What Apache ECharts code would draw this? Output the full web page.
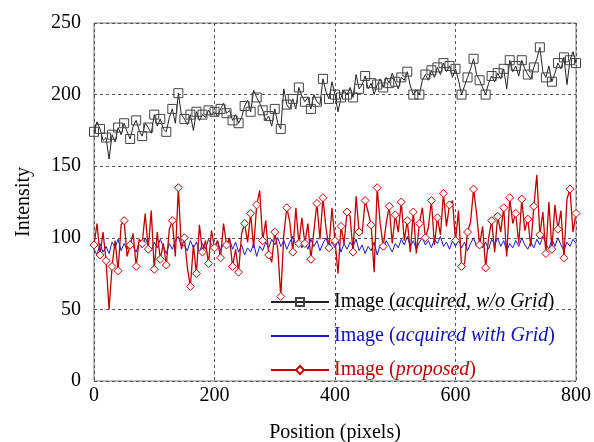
<!DOCTYPE html>
<html>
<head>
<meta charset="utf-8">
<title>Intensity profile</title>
<script src="https://cdn.jsdelivr.net/npm/echarts@6/dist/echarts.min.js"></script>
<style>
  html, body { margin: 0; padding: 0; background: #fff; }
  #main { width: 594px; height: 442px; }
</style>
</head>
<body>
<div id="main"></div>
<script>
// positions along the profile (pixels), one every 5
var positions = [];
for (var p = 0; p <= 800; p += 5) positions.push(p);

// acquired image, no grid (black, squares)
var acquiredNoGrid = [
  174,181,176,168,170,155,172,167,177,172,
  180,174,169,178,182,175,171,180,177,173,
  186,178,183,176,174,184,190,180,201,186,
  183,179,186,175,188,182,186,184,189,186,
  188,185,190,194,187,189,182,186,180,184,
  192,196,188,203,198,194,189,182,185,178,
  190,180,176,204,193,190,197,190,205,199,
  195,198,190,200,195,193,211,202,197,209,
  200,188,198,203,200,205,198,214,204,207,
  213,204,208,200,207,211,205,212,208,215,
  209,204,212,210,216,206,200,203,200,210,
  214,210,217,212,219,214,222,216,220,212,
  218,210,200,206,212,218,225,214,210,205,
  200,208,213,209,215,211,218,204,224,216,
  220,213,224,218,214,211,219,225,233,216,
  212,220,209,215,222,218,226,207,224,230,
  222
];

// acquired image with grid (blue, plain line)
var acquiredWithGrid = [
  92,88,96,90,94,89,97,93,99,91,
  96,92,98,94,90,97,93,100,95,91,
  97,93,99,94,89,96,92,98,101,94,
  95,91,98,93,97,90,96,92,99,95,
  93,98,91,96,94,99,92,97,90,95,
  88,93,90,96,87,94,91,97,93,99,
  95,100,94,98,92,97,101,95,99,93,
  97,92,99,94,98,91,96,100,94,97,
  93,98,90,96,92,97,94,99,91,95,
  89,94,91,97,88,95,92,98,94,90,
  96,93,99,95,101,94,98,92,97,100,
  95,98,93,99,96,101,94,97,92,98,
  94,99,93,97,91,96,100,94,98,93,
  97,92,99,95,100,94,98,91,96,93,
  98,94,100,95,92,97,93,99,95,101,
  96,92,99,94,100,95,91,97,94,99,
  96
];

// proposed method (red, diamonds)
var proposed = [
  95,110,88,104,84,50,80,98,77,109,
  112,87,95,103,80,99,96,117,92,119,
  78,104,85,96,81,106,112,87,135,92,
  100,79,66,95,75,109,90,98,82,105,
  93,98,86,110,95,100,80,92,76,103,
  110,97,117,93,123,133,98,112,88,83,
  104,92,59,102,121,111,90,121,96,114,
  96,110,85,105,124,99,128,107,93,121,
  98,75,108,96,118,115,90,129,104,103,
  126,118,109,76,135,110,94,110,122,96,
  116,104,125,98,112,90,118,89,110,121,
  100,107,126,95,114,102,131,108,123,126,
  98,119,80,82,104,111,134,117,95,108,
  79,100,112,90,115,104,121,87,128,110,
  117,96,127,105,113,94,122,144,102,118,
  89,125,92,123,106,119,86,127,134,104,
  117
];

var xTicks = [0, 200, 400, 600, 800];
var yTicks = [0, 50, 100, 150, 200, 250];

var names = ['Image (acquired, w/o Grid)', 'Image (acquired with Grid)', 'Image (proposed)'];

function pairs(vals) {
  return vals.map(function (v, i) { return [positions[i], v]; });
}
// markers only on every other sample
function markEvery(size) {
  return function (v, params) {
    return params.dataIndex % 2 === 0 ? size : 0;
  };
}

var serif = '"Liberation Serif", "DejaVu Serif", serif';
var chart = echarts.init(document.getElementById('main'));

chart.setOption({
  animation: false,
  grid: {
    left: 94, right: 18, top: 23, bottom: 61,
    outerBoundsMode: 'none',
    show: true, borderColor: '#777', borderWidth: 1
  },
  xAxis: {
    type: 'value',
    min: xTicks[0], max: xTicks[xTicks.length - 1], interval: 200,
    name: 'Position (pixels)',
    nameLocation: 'middle',
    nameGap: 42,
    nameTextStyle: { fontFamily: serif, fontSize: 20, color: '#000' },
    axisLine: { show: false },
    axisTick: { show: false },
    axisLabel: { fontFamily: serif, fontSize: 20, color: '#000', margin: 5 },
    splitLine: { show: true, lineStyle: { color: '#555', type: [3, 3], width: 1 } }
  },
  yAxis: {
    type: 'value',
    min: yTicks[0], max: yTicks[yTicks.length - 1], interval: 50,
    name: 'Intensity',
    nameLocation: 'middle',
    nameGap: 60,
    nameTextStyle: { fontFamily: serif, fontSize: 20, color: '#000' },
    axisLine: { show: false },
    axisTick: { show: false },
    axisLabel: { fontFamily: serif, fontSize: 20, color: '#000', margin: 13 },
    splitLine: { show: true, lineStyle: { color: '#555', type: [3, 3], width: 1 } }
  },
  legend: {
    orient: 'vertical',
    left: 270,
    top: 292,
    padding: 0,
    itemWidth: 58,
    itemHeight: 10,
    itemGap: 14,
    data: [
      names[0],
      { name: names[1], itemStyle: { color: 'rgba(0,0,0,0)', borderWidth: 0 } },
      names[2]
    ],
    textStyle: {
      fontFamily: serif, fontSize: 20,
      rich: {
        k: { fontFamily: serif, fontSize: 20, color: '#000' },
        ki: { fontFamily: serif, fontSize: 20, color: '#000', fontStyle: 'italic' },
        b: { fontFamily: serif, fontSize: 20, color: '#1010c0' },
        bi: { fontFamily: serif, fontSize: 20, color: '#1010c0', fontStyle: 'italic' },
        r: { fontFamily: serif, fontSize: 20, color: '#c00000' },
        ri: { fontFamily: serif, fontSize: 20, color: '#c00000', fontStyle: 'italic' }
      }
    },
    formatter: function (n) {
      if (n === names[0]) return '{k|Image (}{ki|acquired, w/o Grid}{k|)}';
      if (n === names[1]) return '{b|Image (}{bi|acquired with Grid}{b|)}';
      return '{r|Image (}{ri|proposed}{r|)}';
    }
  },
  series: [
    {
      name: names[0],
      type: 'line',
      data: pairs(acquiredNoGrid),
      symbol: 'rect',
      symbolSize: markEvery(9),
      showAllSymbol: true,
      lineStyle: { color: '#222', width: 1 },
      itemStyle: { color: 'rgba(255,255,255,0)', borderColor: '#444', borderWidth: 1 },
      z: 2
    },
    {
      name: names[1],
      type: 'line',
      data: pairs(acquiredWithGrid),
      symbol: 'none',
      lineStyle: { color: '#1a1ad0', width: 1 },
      itemStyle: { color: '#1a1ad0' },
      z: 3
    },
    {
      name: names[2],
      type: 'line',
      data: pairs(proposed),
      symbol: 'diamond',
      symbolSize: markEvery(8),
      showAllSymbol: true,
      lineStyle: { color: '#c00000', width: 1.3 },
      itemStyle: { color: '#fff', borderColor: '#d00000', borderWidth: 1 },
      z: 4
    }
  ]
});
</script>
</body>
</html>
